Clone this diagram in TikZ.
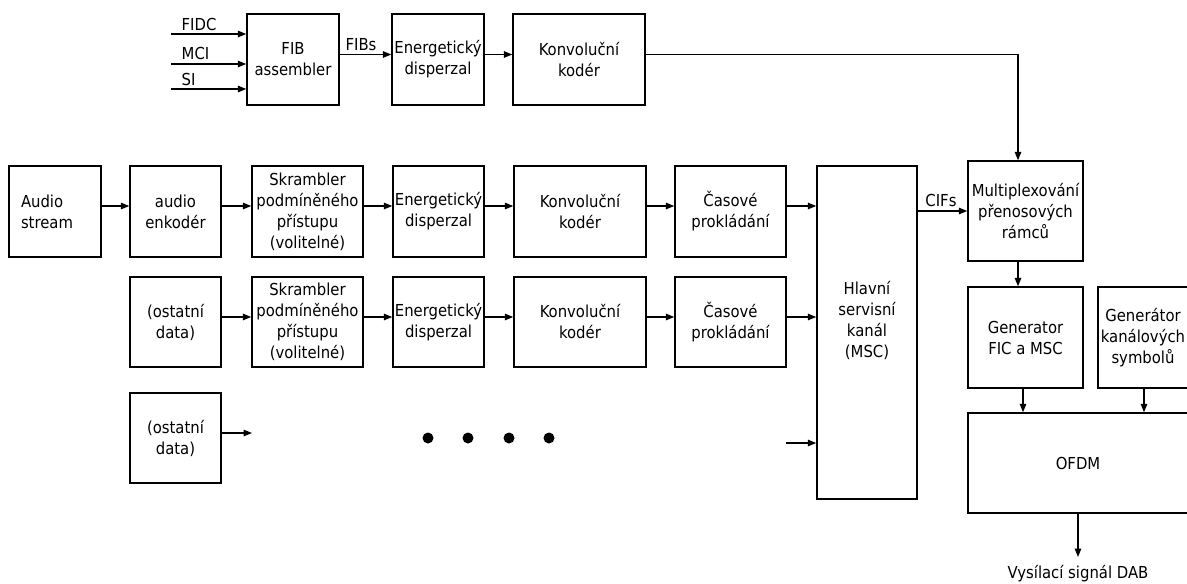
\documentclass[tikz,border=0pt]{standalone}
\usepackage{fontspec}
\setmainfont{DejaVu Sans Condensed}
\usetikzlibrary{arrows.meta}
\begin{document}
\begin{tikzpicture}[x=1pt,y=-1pt,
  line width=1.4pt,
  every node/.style={font=\fontsize{16.5}{21}\selectfont},
  blk/.style={draw, rectangle, inner sep=0pt, align=center},
  arr/.style={-{Triangle[length=8.5pt,width=6.5pt]}},
  dot/.style={circle, fill, inner sep=0pt, minimum size=11pt},
  lbl/.style={inner sep=0pt}]
\useasboundingbox (0,0) rectangle (1187,584);

% --- FIC branch ---
\node[blk, minimum width=92, minimum height=91] (fib) at (293,59.5) {FIB\\assembler};
\node[blk, minimum width=92, minimum height=91] (ed0) at (438,59.5) {Energetický\\disperzal};
\node[blk, minimum width=132, minimum height=91] (kk0) at (579,59.5) {Konvoluční\\kodér};

\coordinate (in1) at (171,34);
\coordinate (in2) at (171,64);
\coordinate (in3) at (171,89);
\draw[arr] (in1) -- (in1 -| fib.west);
\draw[arr] (in2) -- (in2 -| fib.west);
\draw[arr] (in3) -- (in3 -| fib.west);
\node[lbl, anchor=west] (tfidc) at (181,24) {FIDC};
\node[lbl, anchor=west] (tmci) at (181,53) {MCI};
\node[lbl, anchor=west] (tsi) at (181,79) {SI};

\draw[arr] ([yshift=5pt]fib.east) -- ([yshift=5pt]ed0.west);
\node[lbl] (tfibs) at (361,45) {FIBs};
\draw[arr] ([yshift=5pt]ed0.east) -- ([yshift=5pt]kk0.west);

% --- audio service ---
\node[blk, minimum width=92, minimum height=91, text width=68, inner xsep=12pt, align=left] (aud) at (55,211.5) {Audio\\stream};
\node[blk, minimum width=91, minimum height=91] (enc) at (175.5,211.5) {audio\\enkodér};
\node[blk, minimum width=111, minimum height=91] (skr1) at (307.5,211.5) {Skrambler\\podmíněného\\přístupu\\(volitelné)};
\node[blk, minimum width=91, minimum height=91] (ed1) at (438.5,211.5) {Energetický\\disperzal};
\node[blk, minimum width=132, minimum height=91] (kk1) at (580,211.5) {Konvoluční\\kodér};
\node[blk, minimum width=111, minimum height=91] (cas1) at (730.5,211.5) {Časové\\prokládání};

% --- data service ---
\node[blk, minimum width=91, minimum height=90] (dat2) at (175.5,322) {(ostatní\\data)};
\node[blk, minimum width=111, minimum height=90] (skr2) at (307.5,322) {Skrambler\\podmíněného\\přístupu\\(volitelné)};
\node[blk, minimum width=91, minimum height=90] (ed2) at (438.5,322) {Energetický\\disperzal};
\node[blk, minimum width=132, minimum height=90] (kk2) at (580,322) {Konvoluční\\kodér};
\node[blk, minimum width=111, minimum height=90] (cas2) at (730.5,322) {Časové\\prokládání};

% --- further data services ---
\node[blk, minimum width=91, minimum height=90] (dat3) at (175.5,438) {(ostatní\\data)};
\coordinate (d3end) at (252,433);
\coordinate (m4) at (786,443);

\node[dot] (dot1) at (428,438) {};
\node[dot] (dot2) at (468,438) {};
\node[dot] (dot3) at (509,438) {};
\node[dot] (dot4) at (549,438) {};

% --- main service channel ---
\node[blk, minimum width=100, minimum height=333] (msc) at (867,332.5) {};
\node[lbl, align=center] (msct) at (867,320) {Hlavní\\servisní\\kanál\\(MSC)};

% --- transmission side ---
\node[blk, minimum width=115, minimum height=100] (mux) at (1025.5,211) {Multiplexování\\přenosových\\rámců};
\node[blk, minimum width=115, minimum height=101] (gen) at (1025.5,337.5) {Generator\\FIC a MSC};
\node[blk, minimum width=90, minimum height=101] (gks) at (1143,337.5) {Generátor\\kanálových\\symbolů};
\node[blk, minimum width=220, minimum height=100] (ofdm) at (1078,463) {OFDM};
\coordinate (out) at (1078,557);
\node[lbl] (tout) at (1078,574) {Vysílací signál DAB};

% row connectors
\foreach \a/\b in {aud/enc, enc/skr1, skr1/ed1, ed1/kk1, kk1/cas1}
  \draw[arr] ([yshift=5.5pt]\a.east) -- ([yshift=5.5pt]\b.west);
\foreach \a/\b in {dat2/skr2, skr2/ed2, ed2/kk2, kk2/cas2}
  \draw[arr] ([yshift=5pt]\a.east) -- ([yshift=5pt]\b.west);
\draw[arr] ([yshift=5pt]dat3.east) -- (d3end);

\draw[arr] ([yshift=5.5pt]cas1.east) -- ([yshift=5.5pt]cas1.east -| msc.west);
\draw[arr] ([yshift=5pt]cas2.east) -- ([yshift=5pt]cas2.east -| msc.west);
\draw[arr] (m4) -- (m4 -| msc.west);

\draw[arr] (msc.east |- mux.west) -- (mux.west);
\node[lbl] (tcifs) at (941,200) {CIFs};

\draw[arr] ([yshift=5pt]kk0.east) -| ([xshift=-7.5pt]mux.north);
\draw[arr] ([xshift=-7.5pt]mux.south) -- ([xshift=-7.5pt]gen.north);
\draw[arr] ([xshift=-2.5pt]gen.south) -- ([xshift=-2.5pt]gen.south |- ofdm.north);
\draw[arr] ([xshift=1pt]gks.south) -- ([xshift=1pt]gks.south |- ofdm.north);
\draw[arr] (ofdm.south) -- (out);
\end{tikzpicture}
\end{document}
